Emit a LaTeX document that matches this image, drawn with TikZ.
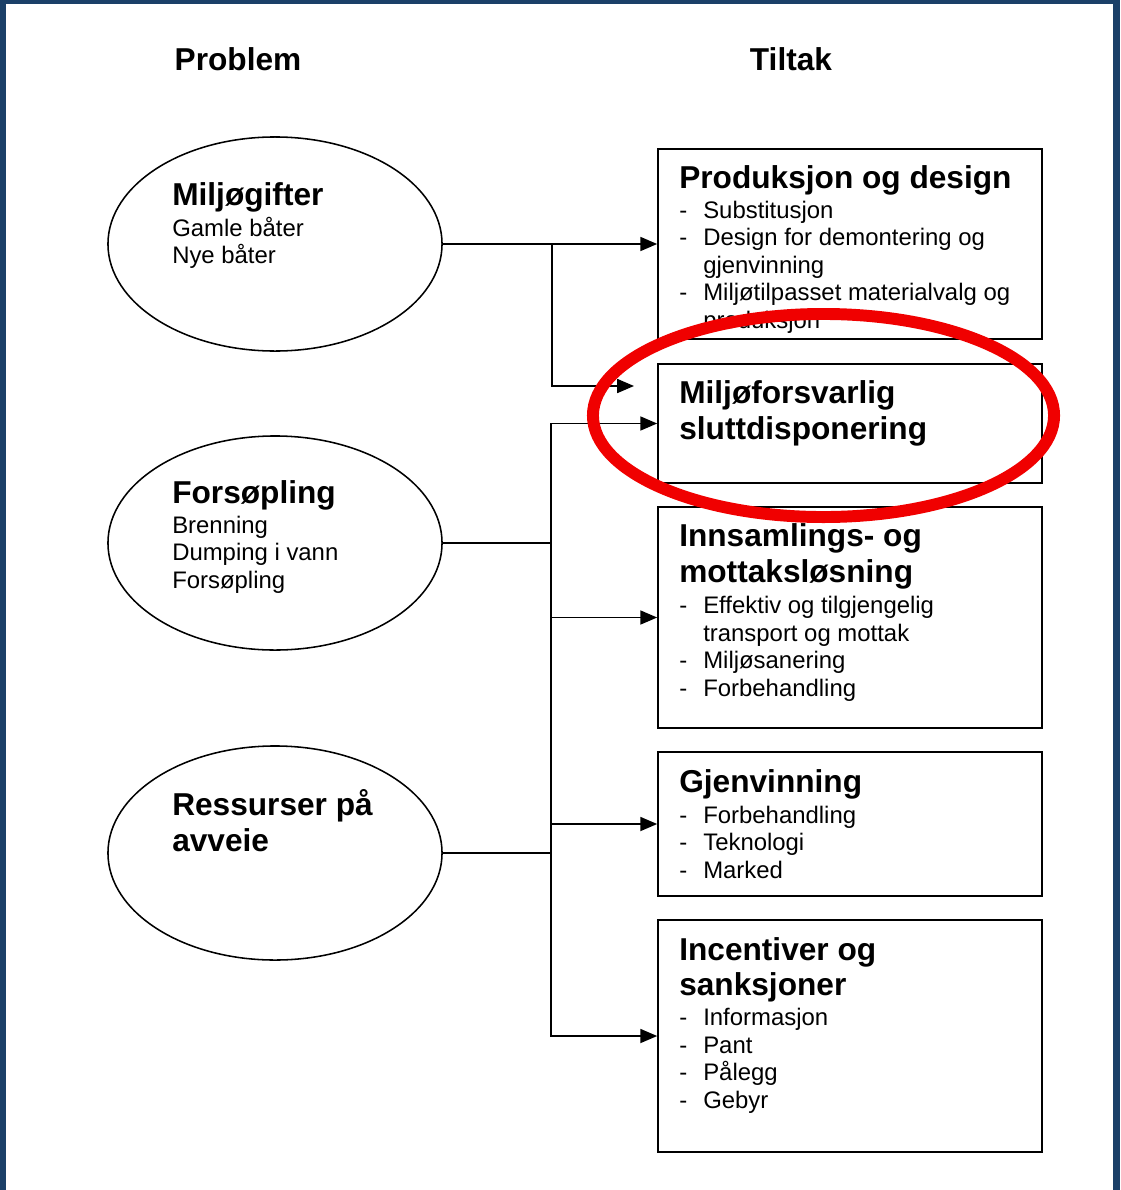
\documentclass[tikz,border=0pt]{standalone}
\usepackage{fontspec}
\setmainfont{Liberation Sans}
\usetikzlibrary{shapes.geometric,arrows.meta}

\definecolor{rammeblaa}{RGB}{27,64,104}
\definecolor{ringrod}{RGB}{240,0,0}

% strek foran punkt, og innrykk for linjer som fortsetter
\newcommand{\pkt}{\makebox[17.07pt][l]{-}}
\newcommand{\inn}{\hspace*{17.07pt}}

\tikzset{
  problem/.style={draw, ellipse, line width=1.1pt, minimum width=8.35cm, minimum height=5.35cm},
  tiltak/.style={draw, rectangle, line width=1.1pt, minimum width=9.6cm},
  kolonne/.style={anchor=base, inner sep=0pt, font=\fontsize{22.5}{25.25}\selectfont\bfseries},
  % base = grunnlinjen til siste linje
  tittel/.style={anchor=base west, inner sep=0pt, align=left, font=\fontsize{22.5}{25.25}\selectfont\bfseries},
  punkt/.style={anchor=base west, inner sep=0pt, align=left, font=\fontsize{17}{19.5}\selectfont},
  linje/.style={line width=1.1pt},
  pil/.style={line width=1.1pt, -{Triangle[length=12pt,width=10pt]}},
  ring/.style={draw=ringrod, line width=8.5pt}
}

\begin{document}
\begin{tikzpicture}[x=0.025cm, y=-0.025cm]
    \useasboundingbox (0,0) rectangle (1120,1190);
    \fill[rammeblaa] (0,0) rectangle (1120,1190);
    \fill[white] (6,4) rectangle (1113,1190);

    % kolonner
    \node[kolonne] (problem) at (238,70) {Problem};
    \node[kolonne] (tiltakk) at (791,70) {Tiltak};

    % problem
    \node[problem] (mg) at (275,244) {};
    \node[tittel] (mg-tittel) at (172,205) {Miljøgifter};
    \node[punkt] (mg-punkt) at (172,263.5) {Gamle båter\\Nye båter};

    \node[problem] (fs) at (275,543) {};
    \node[tittel] (fs-tittel) at (172,503) {Forsøpling};
    \node[punkt] (fs-punkt) at (172,588) {Brenning\\Dumping i vann\\Forsøpling};

    \node[problem] (rs) at (275,853) {};
    \node[tittel] (rs-tittel) at (172,851) {Ressurser på\\avveie};

    % tiltak
    \node[tiltak, minimum height=4.75cm] (pd) at (850,244) {};
    \node[tittel] (pd-tittel) at (679,188) {Produksjon og design};
    \node[punkt] (pd-punkt) at (679,328) {\pkt Substitusjon\\\pkt Design for demontering og\\\inn gjenvinning\\\pkt Miljøtilpasset materialvalg og\\\inn produksjon};

    \node[tiltak, minimum height=2.975cm] (mf) at (850,423.5) {};
    \node[tittel] (mf-tittel) at (679,439) {Miljøforsvarlig\\sluttdisponering};

    \node[tiltak, minimum height=5.525cm] (is) at (850,617.5) {};
    \node[tittel] (is-tittel) at (679,582.5) {Innsamlings- og\\mottaksløsning};
    \node[punkt] (is-punkt) at (679,696) {\pkt Effektiv og tilgjengelig\\\inn transport og mottak\\\pkt Miljøsanering\\\pkt Forbehandling};

    \node[tiltak, minimum height=3.6cm] (gj) at (850,824) {};
    \node[tittel] (gj-tittel) at (679,792) {Gjenvinning};
    \node[punkt] (gj-punkt) at (679,878) {\pkt Forbehandling\\\pkt Teknologi\\\pkt Marked};

    \node[tiltak, minimum height=5.8cm] (ik) at (850,1036) {};
    \node[tittel] (ik-tittel) at (679,995.5) {Incentiver og\\sanksjoner};
    \node[punkt] (ik-punkt) at (679,1108) {\pkt Informasjon\\\pkt Pant\\\pkt Pålegg\\\pkt Gebyr};

    % piler
    \coordinate (mg-gren) at (552,244);
    \coordinate (mf-pil) at (634,386);
    \coordinate (fs-gren) at (551,543);
    \draw[pil] (mg.east) -- (pd.west);
    \draw[pil] (mg-gren) |- (mf-pil);
    \draw[linje] (fs.east) -- (fs-gren);
    \draw[pil] (fs-gren) |- (mf.west);
    \draw[pil] (fs-gren) |- (is.west);
    \draw[pil] (fs-gren) |- (gj.west);
    \draw[pil] (fs-gren) |- (ik.west);
    \draw[linje] (rs.east) -- (rs.east -| fs-gren);

    % rød ring
    \draw[ring] (823.5,415.5) ellipse (5.7625cm and 2.5375cm);
\end{tikzpicture}
\end{document}
